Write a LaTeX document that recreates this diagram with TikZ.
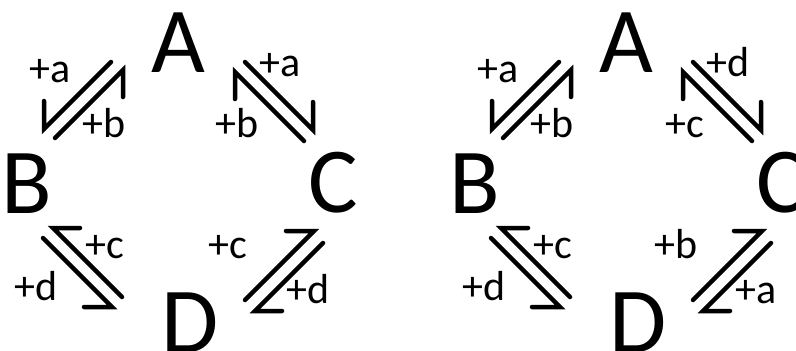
\documentclass[tikz,border=0pt]{standalone}
\usepackage{fontspec}
\setmainfont{Carlito}

\begin{document}
\begin{tikzpicture}[x=1pt,y=-1pt,
  species/.style={anchor=base,inner sep=0pt,font=\fontsize{93}{93}\selectfont},
  lbl/.style={anchor=base,inner sep=0pt,font=\fontsize{42}{42}\selectfont},
  harp/.style={line width=4.5pt,line cap=round,line join=miter}]
  \useasboundingbox (0,0) rectangle (796,351);
  \foreach \dx/\qa/\qb/\qc/\qd/\qe/\qf/\qg/\qh in {0/a/b/a/b/c/d/c/d,448/a/b/d/c/c/d/b/a}{
  \begin{scope}[xshift=\dx]
    % species
    \node[species] (A\dx) at (178,72)  {A};
    \node[species] (B\dx) at (27,213)  {B};
    \node[species] (C\dx) at (333,212) {C};
    \node[species] (D\dx) at (190,352) {D};
    % ends of the half arrows
    \coordinate (ab1) at (111,62);  \coordinate (ab2) at (44,129);
    \coordinate (ba1) at (55,138);  \coordinate (ba2) at (123,70);
    \coordinate (ac1) at (245,62);  \coordinate (ac2) at (313,130);
    \coordinate (ca1) at (304,141); \coordinate (ca2) at (235,72);
    \coordinate (bd1) at (122,297); \coordinate (bd2) at (53,228);
    \coordinate (db1) at (43,238);  \coordinate (db2) at (112,307);
    \coordinate (cd1) at (245,300); \coordinate (cd2) at (314,231);
    \coordinate (dc1) at (323,243); \coordinate (dc2) at (255,311);
    \draw[harp] (ab1) -- (ab2) -- ++(0,-28);
    \draw[harp] (ba1) -- (ba2) -- ++(0,27);
    \draw[harp] (ac1) -- (ac2) -- ++(0,-28);
    \draw[harp] (ca1) -- (ca2) -- ++(0,27);
    \draw[harp] (bd1) -- (bd2) -- ++(27,0);
    \draw[harp] (db1) -- (db2) -- ++(-28,0);
    \draw[harp] (cd1) -- (cd2) -- ++(-28,0);
    \draw[harp] (dc1) -- (dc2) -- ++(27,0);
    % labels
    \node[lbl] (l1\dx) at (50,82)   {+\qa};
    \node[lbl] (l2\dx) at (104,137) {+\qb};
    \node[lbl] (l3\dx) at (280,76)  {+\qc};
    \node[lbl] (l4\dx) at (237,137) {+\qd};
    \node[lbl] (l5\dx) at (105,258) {+\qe};
    \node[lbl] (l6\dx) at (36,300)  {+\qf};
    \node[lbl] (l7\dx) at (228,258) {+\qg};
    \node[lbl] (l8\dx) at (308,303) {+\qh};
  \end{scope}}
\end{tikzpicture}
\end{document}
